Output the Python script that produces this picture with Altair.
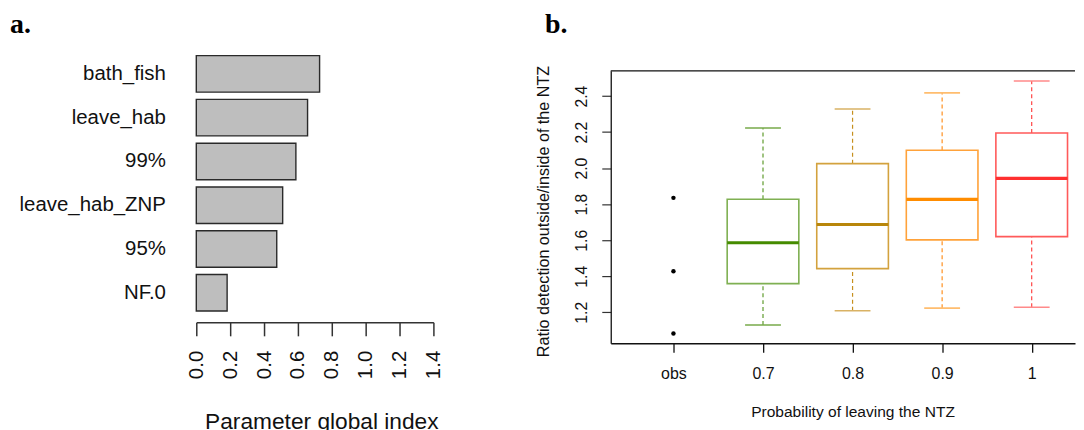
import json
import altair as alt
import pandas as pd

# ---------------- Panel a: parameter global index ----------------
params = ["bath_fish", "leave_hab", "99%", "leave_hab_ZNP", "95%", "NF.0"]
global_index = [0.728, 0.657, 0.588, 0.510, 0.475, 0.182]
index_ticks = [0.0, 0.2, 0.4, 0.6, 0.8, 1.0, 1.2, 1.4]

# ---------------- Panel b: ratio detection boxplots ----------------
tick_labels = ["obs", "0.7", "0.8", "0.9", "1"]
tick_pos = [1, 2, 3, 4, 5]
groups = ["0.7", "0.8", "0.9", "1"]
group_pos = [2, 3, 4, 5]
lower_whisker = [1.129, 1.208, 1.223, 1.228]
q1 = [1.359, 1.442, 1.602, 1.620]
median = [1.586, 1.687, 1.827, 1.943]
q3 = [1.827, 2.025, 2.099, 2.195]
upper_whisker = [2.223, 2.328, 2.418, 2.484]
obs_values = [1.835, 1.428, 1.082]
obs_pos = [1, 1, 1]
ratio_ticks = [1.2, 1.4, 1.6, 1.8, 2.0, 2.2, 2.4]

box_colors = ["#7fb052", "#d3a23e", "#ffa23a", "#ff5a5a"]
median_colors = ["#458B00", "#B8860B", "#FF8C00", "#FF3030"]
whisker_colors = ["#5f9c2e", "#c68f1e", "#ff9020", "#ff4545"]
cap_colors = ["#77aa4a", "#d9b264", "#ffbd6e", "#ff8a8a"]

FONT = "Liberation Sans"
RIGHT_W = 466
RIGHT_H = 273.4
X_MAX = 0.3 + RIGHT_W / 89.9
LEFT_W = 238
LEFT_H = 244.75          # group height (plot tops of both panels are aligned)
LEFT_BAND_TOP = -18.95   # bars start above the shared group top

# ---------- tables ----------
df_a = pd.DataFrame({"param": params, "index": global_index})

df_box = pd.DataFrame({
    "group": groups, "pos": group_pos, "lw": lower_whisker, "q1": q1,
    "med": median, "q3": q3, "uw": upper_whisker,
})
df_whisk = pd.concat([
    pd.DataFrame({"group": groups, "pos": group_pos, "y": lower_whisker, "y2": q1}),
    pd.DataFrame({"group": groups, "pos": group_pos, "y": q3, "y2": upper_whisker}),
], ignore_index=True)
df_cap = pd.concat([
    pd.DataFrame({"group": groups, "pos": group_pos, "y": lower_whisker}),
    pd.DataFrame({"group": groups, "pos": group_pos, "y": upper_whisker}),
], ignore_index=True)
df_obs = pd.DataFrame({"pos": obs_pos, "ratio": obs_values})

panel_font = dict(font="Liberation Serif", fontSize=28, fontWeight="bold", color="black",
                  align="left", baseline="alphabetic")

# ---------- panel a ----------
bars = alt.Chart(df_a).mark_bar(
    fill="#bebebe", stroke="#2a2a2a", strokeWidth=1.4
).encode(
    y=alt.Y(
        "param:N", sort=params,
        scale=alt.Scale(paddingInner=0.166, paddingOuter=0.083,
                        range=[LEFT_BAND_TOP, LEFT_H]),
        axis=alt.Axis(
            title=None, domain=False, ticks=False, labelFontSize=20.5,
            labelPadding=31, labelColor="#111", labelFont=FONT,
            labelLimit=300,
        ),
    ),
    x=alt.X(
        "index:Q",
        scale=alt.Scale(domain=[0, 1.4], nice=False, zero=True),
        axis=alt.Axis(
            title="Parameter global index", values=index_ticks, format=".1f",
            labelAngle=270, labelAlign="right", labelBaseline="middle",
            labelFontSize=20.5, labelPadding=14.5, labelColor="#111",
            tickSize=13.5, tickColor="#333", tickWidth=1.5,
            domainColor="#333", domainWidth=1.5, offset=7.7, grid=False,
            titleFontSize=22.8, titleFontWeight="normal", titleColor="#111",
            titleBaseline="alphabetic", titleX=125.5, titleY=106.3,
            titleAlign="center", labelFlush=False, labelOverlap=False,
        ),
    ),
)
tag_a = alt.Chart(pd.DataFrame({"t": ["a."]})).mark_text(**panel_font).encode(
    text="t:N", x=alt.value(-187), y=alt.value(-37.6)
)
left = alt.layer(bars, tag_a).properties(width=LEFT_W, height=LEFT_H)

# ---------- panel b ----------
xscale = alt.Scale(domain=[0.3, X_MAX], nice=False, zero=False)
yscale = alt.Scale(domain=[1.028, 2.54], nice=False, zero=False)
label_expr = json.dumps(tick_labels) + "[datum.value - 1]"
x_axis = alt.Axis(
    title="Probability of leaving the NTZ", values=tick_pos, labelExpr=label_expr,
    labelFontSize=16, labelBaseline="alphabetic", labelPadding=26,
    labelColor="#111", tickSize=9, tickColor="#111", tickWidth=1.3,
    domain=True, domainColor="#111", domainWidth=1.3, grid=False,
    titleFontSize=15.6, titleFontWeight="normal",
    titleColor="#111", titleBaseline="alphabetic", titleX=242.7, titleY=74,
    titleAlign="center", labelFlush=False,
)
y_axis = alt.Axis(
    title="Ratio detection outside/inside of the NTZ", values=ratio_ticks,
    format=".1f", labelAngle=270, labelAlign="center",
    labelBaseline="alphabetic", labelFontSize=15.8, labelPadding=15,
    labelColor="#111", tickSize=9, tickColor="#333", tickWidth=1.2,
    domain=True, domainColor="#111", domainWidth=1.3, grid=False,
    titleFontSize=16.2, titleFontWeight="normal",
    titleColor="#111", titleAngle=270, titleAlign="center",
    titleBaseline="alphabetic", titleX=-62.3, titleY=140.7, labelFlush=False,
)

whiskers = alt.Chart(df_whisk).mark_rule(strokeDash=[4, 3], strokeWidth=1.2).encode(
    x=alt.X("pos:Q", scale=xscale, axis=x_axis),
    y=alt.Y("y:Q", scale=yscale, axis=y_axis),
    y2="y2:Q",
    stroke=alt.Stroke("group:N", scale=alt.Scale(domain=groups, range=whisker_colors), legend=None),
)

caps = alt.Chart(df_cap).transform_calculate(
    xa="datum.pos - 0.2", xb="datum.pos + 0.2"
).mark_rule(strokeWidth=1.6).encode(
    x=alt.X("xa:Q", scale=xscale, axis=x_axis),
    x2="xb:Q",
    y=alt.Y("y:Q", scale=yscale, axis=y_axis),
    stroke=alt.Stroke("group:N", scale=alt.Scale(domain=groups, range=cap_colors), legend=None),
)

boxes = alt.Chart(df_box).transform_calculate(
    xa="datum.pos - 0.4", xb="datum.pos + 0.4"
).mark_rect(fill="white", strokeWidth=1.6).encode(
    x=alt.X("xa:Q", scale=xscale, axis=x_axis),
    x2="xb:Q",
    y=alt.Y("q1:Q", scale=yscale, axis=y_axis),
    y2="q3:Q",
    stroke=alt.Stroke("group:N", scale=alt.Scale(domain=groups, range=box_colors), legend=None),
)

medians = alt.Chart(df_box).transform_calculate(
    xa="datum.pos - 0.4", xb="datum.pos + 0.4"
).mark_rule(strokeWidth=3.2).encode(
    x=alt.X("xa:Q", scale=xscale, axis=x_axis),
    x2="xb:Q",
    y=alt.Y("med:Q", scale=yscale, axis=y_axis),
    stroke=alt.Stroke("group:N", scale=alt.Scale(domain=groups, range=median_colors), legend=None),
)

points = alt.Chart(df_obs).mark_circle(size=20, color="black", opacity=1).encode(
    x=alt.X("pos:Q", scale=xscale, axis=x_axis),
    y=alt.Y("ratio:Q", scale=yscale, axis=y_axis),
)

top_border = alt.Chart(pd.DataFrame({"k": [0]})).mark_rule(
    color="#111", strokeWidth=1.3
).encode(x=alt.value(0), x2=alt.value(RIGHT_W), y=alt.value(0))

tag_b = alt.Chart(pd.DataFrame({"t": ["b."]})).mark_text(**panel_font).encode(
    text="t:N", x=alt.value(-66), y=alt.value(-38.3)
)

right = alt.layer(whiskers, caps, boxes, medians, points, top_border, tag_b).resolve_scale(
    stroke="independent"
).properties(width=RIGHT_W, height=RIGHT_H)

chart = alt.hconcat(left, right, spacing=91).properties(
    padding={"left": 2, "top": 1.3, "right": 0, "bottom": 0},
    background="white",
).configure(font=FONT).configure_view(stroke=None)

chart.save("out.html", embed_options={"renderer": "svg", "actions": False})
